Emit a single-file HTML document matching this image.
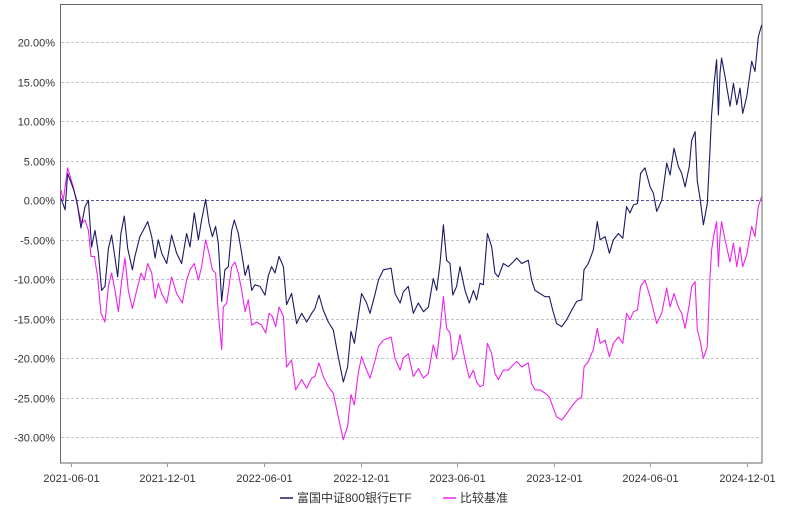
<!DOCTYPE html>
<html><head><meta charset="utf-8"><style>
body{margin:0;background:#fff;width:800px;height:512px;overflow:hidden}
svg{font-family:"Liberation Sans","Noto Sans CJK SC",sans-serif}
</style></head><body>
<svg id="chart" width="800" height="512" xmlns="http://www.w3.org/2000/svg">
<rect x="60.5" y="4.5" width="701.5" height="458.5" fill="none" stroke="#666" stroke-width="1"/>
<g id="grid"></g>
<g id="yaxis"></g>
<g id="xaxis"></g>
<g id="series"></g>
<g>
<g>
<line x1="280" y1="498" x2="293" y2="498" stroke="#1a1a66" stroke-width="1.5"/>
<text x="297" y="502" font-size="12" fill="#333">富国中证800银行ETF</text>
</g>
<g>
<line x1="443" y1="498" x2="456" y2="498" stroke="#ee22ee" stroke-width="1.5"/>
<text x="460" y="502" font-size="12" fill="#333">比较基准</text>
</g>
</g>
</svg>
<script>
const yTicks=[20,15,10,5,0,-5,-10,-15,-20,-25,-30];
const xTickMonths=[0,6,12,18,24,30,36,42];
const xTickLabels=["2021-06-01","2021-12-01","2022-06-01","2022-12-01","2023-06-01","2023-12-01","2024-06-01","2024-12-01"];
const etfMonths=[-0.60,-0.35,-0.19,0.16,0.37,0.64,0.89,1.10,1.30,1.51,1.72,1.92,2.13,2.34,2.54,2.71,2.92,3.12,3.33,3.54,3.83,3.99,4.30,4.51,4.78,5.03,5.24,5.44,5.65,5.96,6.27,6.58,6.89,7.20,7.41,7.68,7.93,8.13,8.38,8.59,8.80,9.00,9.17,9.38,9.58,9.79,10.00,10.16,10.41,10.62,10.83,11.03,11.24,11.45,11.76,12.07,12.28,12.48,12.69,12.94,13.21,13.41,13.72,14.03,14.35,14.66,14.97,15.17,15.42,15.69,16.00,16.31,16.58,16.93,17.20,17.41,17.62,17.86,18.07,18.38,18.59,18.91,19.11,19.42,19.90,20.14,20.46,20.66,20.97,21.28,
21.59,21.91,22.22,22.52,22.73,22.94,23.15,23.35,23.56,23.73,23.97,24.18,24.49,24.76,25.01,25.21,25.42,25.63,25.88,26.15,26.35,26.56,26.87,27.18,27.49,27.70,28.01,28.42,28.63,28.84,29.15,29.46,29.73,29.94,30.18,30.50,30.81,31.12,31.43,31.74,31.88,32.15,32.46,32.71,32.88,33.19,33.46,33.71,34.02,34.29,34.53,34.74,34.95,35.20,35.40,35.67,35.99,36.19,36.40,36.71,37.02,37.23,37.47,37.74,37.95,38.16,38.42,38.57,38.78,38.92,39.09,39.30,39.54,39.71,39.81,39.96,40.12,40.23,40.33,40.43,40.64,40.95,41.16,41.37,41.57,41.74,41.99,42.30,42.50,42.71,42.92];
const etfValues=[0.25,-1.2,3.4,1.5,0,-3.5,-0.8,0,-5.9,-3.8,-6.7,-11.4,-10.9,-6.1,-4.4,-6.7,-9.7,-4.2,-2.0,-6.1,-8.8,-7.1,-4.6,-3.8,-2.7,-4.6,-7.3,-5.0,-6.7,-8.0,-4.4,-6.7,-8.0,-4.2,-5.9,-1.6,-5.0,-2.5,0.1,-2.9,-4.6,-3.3,-5.4,-12.8,-8.8,-8.4,-3.8,-2.5,-4.2,-6.7,-9.5,-8.2,-11.4,-10.7,-10.9,-12.0,-9.5,-8.4,-9.2,-7.1,-8.4,-13.2,-11.8,-15.6,-14.3,-15.4,-14.3,-13.7,-12.0,-13.9,-15.4,-16.4,-19.4,-23.0,-21.1,-16.6,-18.1,-14.7,-11.8,-13.0,-14.3,-11.8,-10.1,-8.8,-8.6,-11.8,-13.0,-11.6,-10.9,-14.3,
-13.0,-14.1,-13.5,-9.9,-11.4,-8.0,-3.1,-7.6,-8.0,-12.0,-10.9,-8.4,-11.4,-13.0,-11.4,-12.6,-10.5,-10.7,-4.2,-5.9,-9.2,-9.7,-8.0,-8.4,-7.8,-7.3,-8.0,-7.6,-10.1,-11.4,-11.8,-12.2,-12.2,-13.9,-15.6,-16.0,-15.1,-13.9,-12.8,-12.6,-8.8,-8.0,-6.3,-2.7,-5.0,-4.6,-6.7,-5.0,-4.2,-4.8,-0.8,-1.6,-0.6,-0.4,3.4,4.1,1.7,0.9,-1.4,0,4.7,3.2,6.6,4.3,3.4,1.7,4.3,7.6,8.7,2.4,0.3,-3.1,-0.4,6.4,10.8,14.8,17.8,10.8,16.1,18.0,15.7,11.9,14.8,12.1,14.2,11.0,13.1,17.6,16.3,20.7,22.2];
const bmkMonths=[-0.60,-0.46,-0.19,0.16,0.47,0.68,0.89,1.10,1.26,1.47,1.67,1.88,2.13,2.34,2.54,2.75,2.96,3.17,3.37,3.58,3.83,4.10,4.37,4.57,4.78,5.03,5.24,5.44,5.65,5.96,6.27,6.58,6.93,7.20,7.41,7.68,7.93,8.13,8.38,8.59,8.80,9.00,9.17,9.38,9.48,9.69,10.00,10.20,10.41,10.62,10.83,11.03,11.24,11.55,11.86,12.11,12.32,12.53,12.73,12.94,13.21,13.41,13.72,13.97,14.35,14.66,14.97,15.17,15.42,15.69,16.00,16.31,16.58,16.93,17.20,17.41,17.62,17.86,18.07,18.38,18.59,18.91,19.11,19.42,19.90,20.14,20.46,20.66,20.97,21.28,
21.59,21.91,22.22,22.52,22.73,22.94,23.15,23.35,23.56,23.73,23.97,24.18,24.49,24.76,25.01,25.21,25.42,25.63,25.88,26.15,26.35,26.56,26.87,27.18,27.49,27.70,28.01,28.42,28.63,28.84,29.15,29.46,29.73,29.94,30.18,30.50,30.81,31.12,31.43,31.74,31.88,32.15,32.46,32.71,32.88,33.19,33.46,33.71,34.02,34.29,34.53,34.74,34.95,35.20,35.40,35.67,35.99,36.19,36.40,36.71,37.02,37.23,37.47,37.74,37.95,38.16,38.42,38.57,38.78,38.92,39.09,39.30,39.54,39.71,39.81,39.96,40.12,40.23,40.33,40.43,40.64,40.95,41.16,41.37,41.57,41.74,41.99,42.30,42.50,42.71,42.92];
const bmkValues=[1.3,0,4.1,1.7,-1.2,-2.9,-2.5,-3.8,-7.1,-7.1,-9.7,-14.3,-15.4,-10.9,-9.2,-11.4,-14.1,-10.1,-7.3,-11.4,-13.7,-11.4,-9.2,-10.1,-8.0,-9.2,-12.4,-10.5,-11.8,-13.0,-9.7,-11.8,-13.0,-10.1,-8.8,-8.0,-10.1,-8.4,-5.0,-6.7,-8.8,-9.2,-14.3,-18.9,-13.5,-13.0,-8.4,-7.8,-9.2,-11.4,-14.1,-12.6,-15.8,-15.4,-15.8,-16.8,-14.3,-14.7,-16.0,-13.5,-14.7,-21.1,-20.2,-24.0,-22.7,-23.8,-22.5,-22.3,-20.6,-22.3,-23.6,-24.4,-27.0,-30.3,-28.6,-24.6,-25.9,-21.9,-19.8,-21.5,-22.5,-20.2,-18.5,-17.7,-17.3,-20.0,-21.5,-20.0,-19.4,-22.3,
-21.3,-22.5,-21.9,-18.3,-20.0,-16.4,-12.2,-16.2,-16.8,-20.2,-19.4,-17.0,-20.2,-22.5,-21.5,-23.0,-23.6,-23.4,-18.1,-19.4,-21.9,-22.7,-21.5,-21.5,-20.8,-20.4,-21.1,-20.6,-23.2,-24.0,-24.0,-24.4,-24.9,-26.1,-27.4,-27.8,-27.0,-26.1,-25.3,-24.9,-21.1,-20.4,-18.9,-16.2,-18.1,-17.7,-19.8,-18.1,-17.3,-18.1,-14.3,-15.1,-14.1,-13.9,-10.9,-10.1,-12.2,-13.9,-15.6,-14.3,-11.1,-13.5,-11.8,-13.5,-14.3,-16.2,-13.2,-10.9,-10.3,-16.4,-17.7,-20.0,-18.5,-9.7,-6.3,-4.2,-2.7,-8.4,-4.6,-2.7,-5.0,-7.8,-5.4,-8.4,-5.9,-8.4,-6.9,-3.3,-4.6,-0.8,0.5];

const NS="http://www.w3.org/2000/svg";
function xScale(m){return 70.7+m*16.1;}
function yScale(v){return 200.3-v*7.9;}
function mk(tag,attrs,parent){const e=document.createElementNS(NS,tag);for(const k in attrs)e.setAttribute(k,attrs[k]);parent.appendChild(e);return e;}
const grid=document.getElementById('grid'),ya=document.getElementById('yaxis'),xa=document.getElementById('xaxis'),sg=document.getElementById('series');
yTicks.forEach(t=>{
  const y=Math.round(yScale(t))+0.5;
  const l=mk('line',{x1:61,x2:762,y1:y,y2:y,stroke:t===0?'#555599':'#c4c4c4','stroke-width':1,'stroke-dasharray':'3,2'},grid);
  
  
  const tx=mk('text',{x:55,y:y+4,'text-anchor':'end','font-size':11,fill:'#333'},ya);
  tx.textContent=t.toFixed(2)+'%';
  
  
});
xTickMonths.forEach((m,i)=>{
  const x=Math.round(xScale(m))+0.5;
  const tk=mk('line',{x1:x,x2:x,y1:463,y2:467,stroke:'#999'},xa);
  
  
  const tx=mk('text',{x:x,y:482,'text-anchor':'middle','font-size':11,fill:'#333'},xa);
  tx.textContent=xTickLabels[i];
  
  
});
function draw(ms,vs,color,name){
  const pts=ms.map((m,i)=>xScale(m).toFixed(1)+','+yScale(vs[i]).toFixed(1)).join(' ');
  const p=mk('polyline',{points:pts,fill:'none',stroke:color,'stroke-width':1.1,'stroke-linejoin':'round'},sg);
  
  
}
draw(bmkMonths,bmkValues,'#ee22ee','benchmark-line');
draw(etfMonths,etfValues,'#1a1a66','etf-line');
</script>
</body></html>
